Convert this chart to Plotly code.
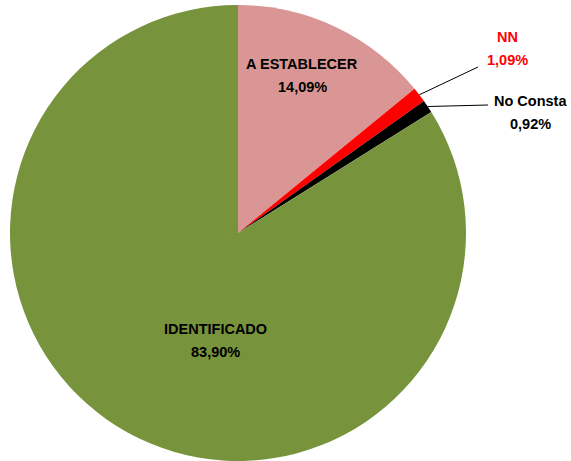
import math
import plotly.graph_objects as go

categories = ["A ESTABLECER", "NN", "No Consta", "IDENTIFICADO"]
values = [14.09, 1.09, 0.92, 83.90]
value_labels = ["14,09%", "1,09%", "0,92%", "83,90%"]
colors = ["#D99694", "#FF0000", "#000000", "#77933C"]
label_colors = ["#000000", "#FF0000", "#000000", "#000000"]

W, H = 571, 461
CX, CY, R = 238, 233, 228
FONT = "Liberation Sans Narrow, Arial Narrow, Liberation Sans, Arial, sans-serif"
FS = 14.5

fig = go.Figure(go.Pie(
    labels=categories, values=values, sort=False, direction="clockwise", rotation=0,
    marker=dict(colors=colors, line=dict(width=0)),
    textinfo="none", hoverinfo="label+percent", showlegend=False,
    domain=dict(x=[(CX - R) / W, (CX + R) / W], y=[(H - CY - R) / H, (H - CY + R) / H]),
))

def px(x, y):
    return x / W, 1 - y / H

inside = {0: (302, 75), 3: (215, 340)}
outside = {1: ((507, 48), (478, 67)), 2: ((530, 112), (488, 105))}

annotations = []
shapes = []
total = sum(values)
cum = 0
for i, (cat, v) in enumerate(zip(categories, values)):
    mid = (cum + v / 2) / total * 2 * math.pi
    cum += v
    if i not in inside:
        (ex, ey) = outside[i][1]
        sx = CX + R * math.sin(mid)
        sy = CY - R * math.cos(mid)
        x0, y0 = px(sx, sy)
        x1, y1 = px(ex, ey)
        shapes.append(dict(type="line", xref="paper", yref="paper", x0=x0, y0=y0, x1=x1, y1=y1,
                           line=dict(color="#000000", width=1)))
    tx, ty = inside[i] if i in inside else outside[i][0]
    for k, line in enumerate([cat, value_labels[i]]):
        x, y = px(tx, ty - 11.5 + 23 * k)
        annotations.append(dict(x=x, y=y, xref="paper", yref="paper", text=f"<b>{line}</b>",
                                showarrow=False,
                                font=dict(family=FONT, size=FS, color=label_colors[i]),
                                xanchor="center", yanchor="middle", align="center"))

fig.update_layout(width=W, height=H, margin=dict(l=0, r=0, t=0, b=0),
                  paper_bgcolor="white", plot_bgcolor="white",
                  annotations=annotations, shapes=shapes)
fig.write_html("out.html", config={"displayModeBar": False},
               post_script="document.body.style.margin='0';")
